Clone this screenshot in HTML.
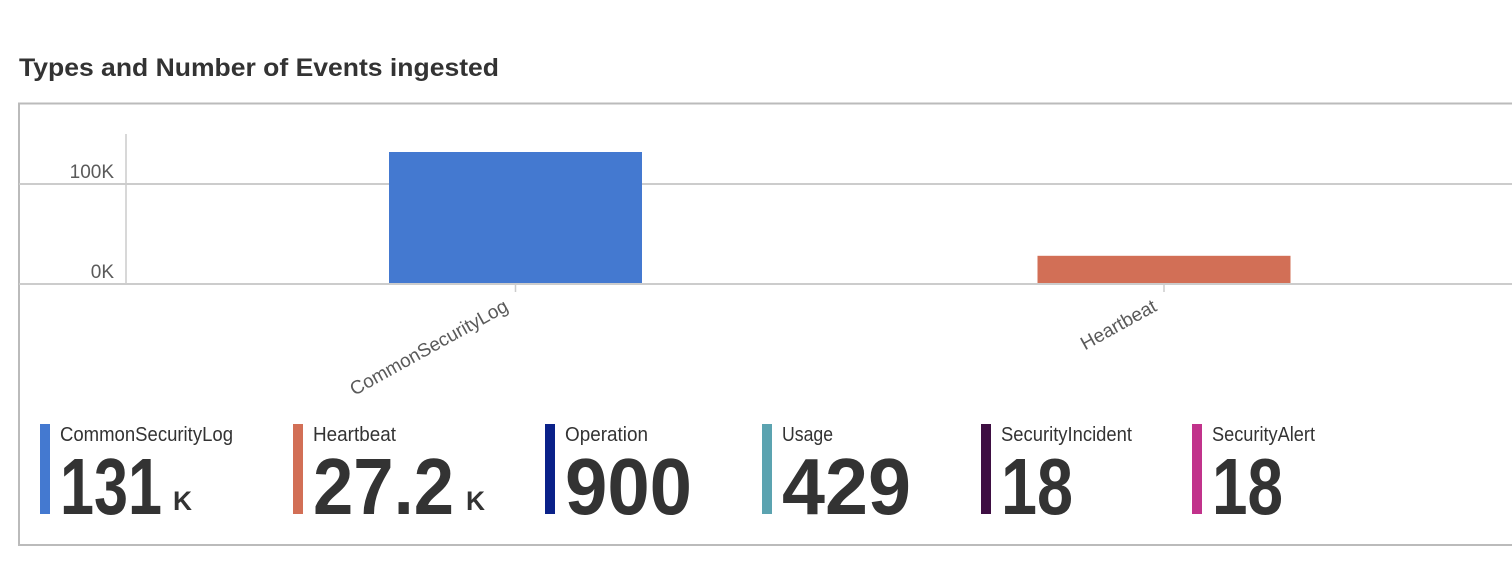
<!DOCTYPE html>
<html lang="en">
<head>
<meta charset="utf-8">
<title>Types and Number of Events ingested</title>
<style>
  html, body { margin: 0; padding: 0; background: #fff; width: 1512px; height: 568px; overflow: hidden; }
  svg { display: block; font-family: "Liberation Sans", sans-serif; }
  .lbl { font-size: 20px; fill: #333; }
  .num { font-size: 80px; font-weight: bold; fill: #333; }
  .unit { font-size: 27px; font-weight: bold; fill: #333; }
  .tick { font-size: 19px; fill: #5a5a5a; }
</style>
</head>
<body>
<svg id="chart" width="1512" height="568" viewBox="0 0 1512 568" xmlns="http://www.w3.org/2000/svg">
  <text x="19" y="76" font-size="25" font-weight="bold" fill="#333" textLength="480" lengthAdjust="spacingAndGlyphs">Types and Number of Events ingested</text>
  <path d="M1512 103.5H19V545H1512" fill="none" stroke="#bbb" stroke-width="2"/>
  <g id="plot"></g>

  <g>
    <g>
      <rect x="40" y="424" width="10" height="90" fill="#4479d0"/>
      <text class="lbl" x="60" y="441" textLength="173" lengthAdjust="spacingAndGlyphs">CommonSecurityLog</text>
      <text class="num" x="60" y="514" textLength="102" lengthAdjust="spacingAndGlyphs">131</text>
      <text class="unit" x="173" y="510" textLength="19" lengthAdjust="spacingAndGlyphs">K</text>
    </g>
    <g>
      <rect x="293" y="424" width="10" height="90" fill="#d26f56"/>
      <text class="lbl" x="313" y="441" textLength="83" lengthAdjust="spacingAndGlyphs">Heartbeat</text>
      <text class="num" x="313" y="514" textLength="141" lengthAdjust="spacingAndGlyphs">27.2</text>
      <text class="unit" x="466" y="510" textLength="19" lengthAdjust="spacingAndGlyphs">K</text>
    </g>
    <g>
      <rect x="545" y="424" width="10" height="90" fill="#0a2189"/>
      <text class="lbl" x="565" y="441" textLength="83" lengthAdjust="spacingAndGlyphs">Operation</text>
      <text class="num" x="565" y="514" textLength="127" lengthAdjust="spacingAndGlyphs">900</text>
    </g>
    <g>
      <rect x="762" y="424" width="10" height="90" fill="#5ba3b0"/>
      <text class="lbl" x="782" y="441" textLength="51" lengthAdjust="spacingAndGlyphs">Usage</text>
      <text class="num" x="782" y="514" textLength="129" lengthAdjust="spacingAndGlyphs">429</text>
    </g>
    <g>
      <rect x="981" y="424" width="10" height="90" fill="#3e0e42"/>
      <text class="lbl" x="1001" y="441" textLength="131" lengthAdjust="spacingAndGlyphs">SecurityIncident</text>
      <text class="num" x="1001" y="514" textLength="72" lengthAdjust="spacingAndGlyphs">18</text>
    </g>
    <g>
      <rect x="1192" y="424" width="10" height="90" fill="#c1328b"/>
      <text class="lbl" x="1212" y="441" textLength="103" lengthAdjust="spacingAndGlyphs">SecurityAlert</text>
      <text class="num" x="1212" y="514" textLength="71" lengthAdjust="spacingAndGlyphs">18</text>
    </g>
  </g>
</svg>
<script>
const categories = ["CommonSecurityLog", "Heartbeat"];
const eventCounts = [131000, 27200];
const barColors = ["#4479d0", "#d26f56"];
const yTickValues = [0, 100000];
const yTickLabels = ["0K", "100K"];

const NS = "http://www.w3.org/2000/svg";
const plot = document.getElementById("plot");

function yScale(v) { return 284 - (v / 100000) * 100; }
function xCenter(i) { return 515.5 + i * 648.5; }
const barWidth = 253;

function make(tag, attrs) {
  const el = document.createElementNS(NS, tag);
  for (const k in attrs) el.setAttribute(k, attrs[k]);
  plot.appendChild(el);
  return el;
}

yTickValues.forEach(function (v, i) {
  const grid = make("line", { x1: 19, x2: 1512, y1: yScale(v), y2: yScale(v), stroke: "#ccc", "stroke-width": 2 });
  
  
  const label = make("text", { x: 114, y: yScale(v) - 6, "text-anchor": "end", "class": "tick" });
  label.textContent = yTickLabels[i];
  
  
});

const yAxis = make("line", { x1: 126, x2: 126, y1: yScale(150000), y2: yScale(0), stroke: "#ccc", "stroke-width": 1.5 });



categories.forEach(function (name, i) {
  const cx = xCenter(i);
  const top = yScale(eventCounts[i]) - 1;
  const bar = make("rect", { x: cx - barWidth / 2, y: top, width: barWidth, height: yScale(0) - top - 1, fill: barColors[i] });
  
  
  const tick = make("line", { x1: cx, x2: cx, y1: yScale(0), y2: yScale(0) + 8, stroke: "#ccc", "stroke-width": 1.5 });
  
  
  const tx = cx - 6;
  const ty = yScale(0) + 26;
  const label = make("text", { x: tx, y: ty, "text-anchor": "end", "class": "tick", transform: "rotate(-29 " + tx + " " + ty + ")" });
  label.textContent = name;
  
  
});
</script>
</body>
</html>
